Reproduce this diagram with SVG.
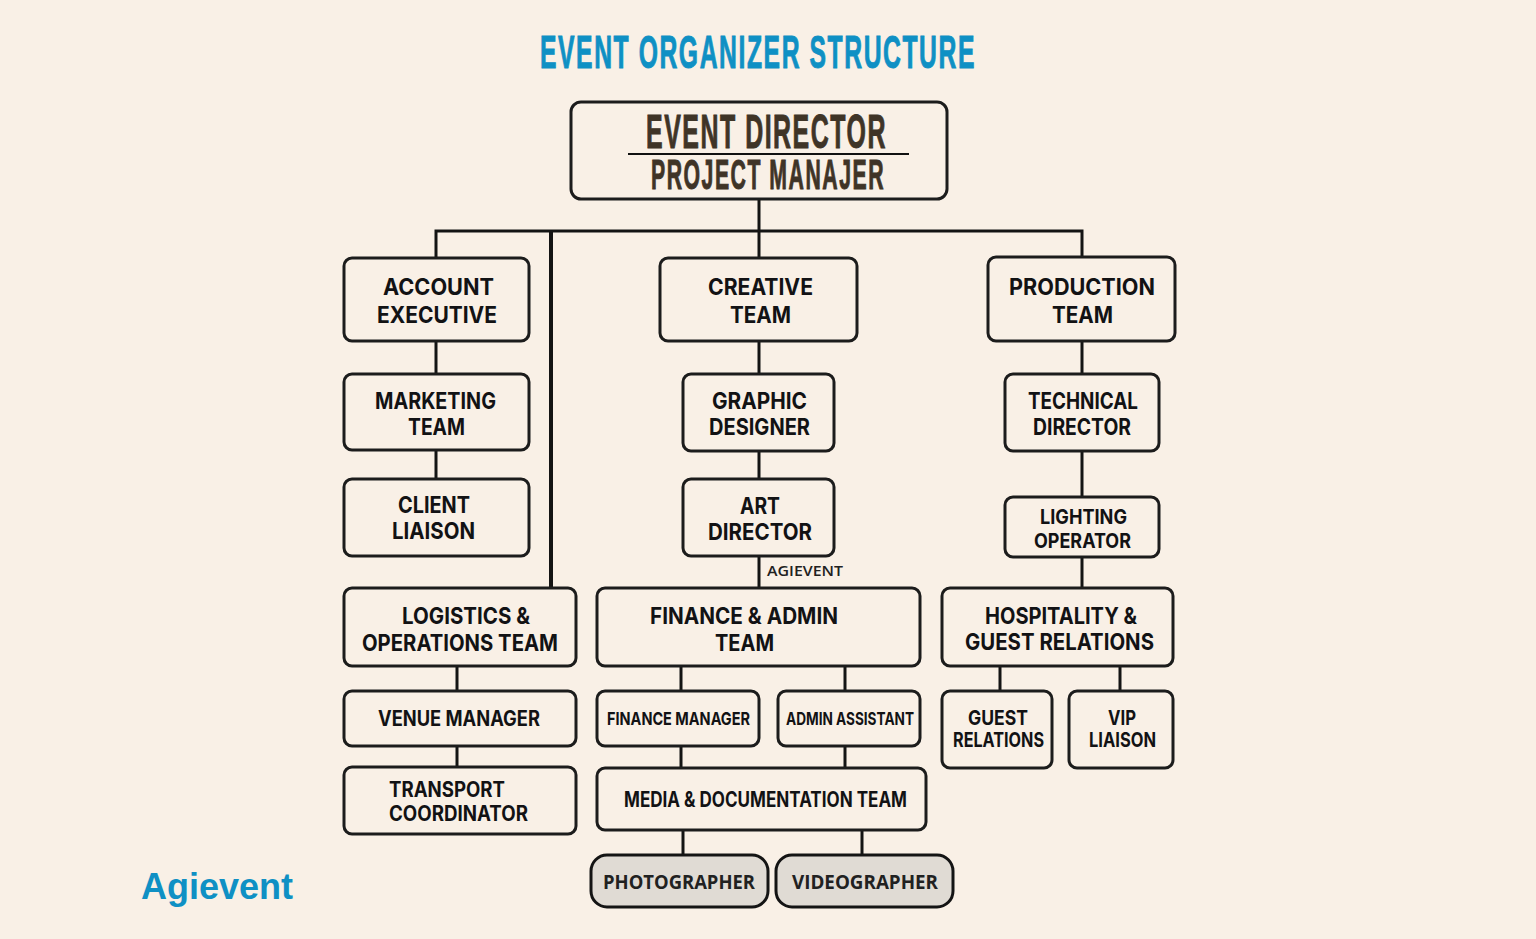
<svg xmlns="http://www.w3.org/2000/svg" width="1536" height="939" viewBox="0 0 1536 939">
<style>
.n{fill:#f9f0e6;stroke:#1c1c1c;stroke-width:3}
.g{fill:#e0dbd4;stroke:#141414;stroke-width:3}
.t{font-family:Inter,"Liberation Sans",sans-serif;font-weight:700;fill:#121214;font-size:23px}
.s{font-size:20px}
.m{font-size:18px}
.h{font-family:"Liberation Sans",Arial,sans-serif;font-weight:700;letter-spacing:3px;stroke-width:1}
.a{font-family:"Liberation Sans",Arial,sans-serif;font-weight:700}
.o{font-family:"Open Sans","Noto Sans",sans-serif;font-weight:700;font-size:20px;fill:#212121}
#connectors path{fill:none;stroke:#141414;stroke-width:3}
</style>
<rect width="1536" height="939" fill="#f9f0e6"/>
<text class="h" x="540" y="68" font-size="47" fill="#0f90c4" stroke="#0f90c4" textLength="436" lengthAdjust="spacingAndGlyphs">EVENT ORGANIZER STRUCTURE</text>
<g id="connectors">
<path d="M759 199V258M436 258V231H1082V257M436 341V374M436 450V479M759 341V374M759 451V479M759 556V588M1082 341V374M1082 451V497M1082 557V588M457 666V691M457 746V767M681 666V691M845 666V691M681 746V768M845 746V768M1000 666V691M1120 666V691M683 830V855M862 830V855"/>
<path d="M551 231V588" style="stroke-width:4"/>
</g>
<g id="event-director"><rect class="n" x="571" y="102" width="376" height="97" rx="10"/>
<text class="h" x="646" y="148" font-size="49" fill="#3f3427" stroke="#3f3427" textLength="241" lengthAdjust="spacingAndGlyphs">EVENT DIRECTOR</text>
<line x1="628" y1="154" x2="909" y2="154" stroke="#111" stroke-width="1.8"/>
<text class="h" x="651" y="189" font-size="42" fill="#3f3427" stroke="#3f3427" textLength="234" lengthAdjust="spacingAndGlyphs">PROJECT MANAJER</text></g>
<g id="account-executive"><rect class="n" x="344" y="258" width="185" height="83" rx="8"/>
<text class="t" x="383" y="295" textLength="111" lengthAdjust="spacingAndGlyphs">ACCOUNT</text><text class="t" x="377" y="323" textLength="120" lengthAdjust="spacingAndGlyphs">EXECUTIVE</text></g>
<g id="creative-team"><rect class="n" x="660" y="258" width="197" height="83" rx="8"/>
<text class="t" x="708" y="295" textLength="105" lengthAdjust="spacingAndGlyphs">CREATIVE</text><text class="t" x="730" y="323" textLength="61" lengthAdjust="spacingAndGlyphs">TEAM</text></g>
<g id="production-team"><rect class="n" x="988" y="257" width="187" height="84" rx="8"/>
<text class="t" x="1009" y="295" textLength="146" lengthAdjust="spacingAndGlyphs">PRODUCTION</text><text class="t" x="1052" y="323" textLength="61" lengthAdjust="spacingAndGlyphs">TEAM</text></g>
<g id="marketing-team"><rect class="n" x="344" y="374" width="185" height="76" rx="8"/>
<text class="t" x="375" y="409" textLength="121" lengthAdjust="spacingAndGlyphs">MARKETING</text><text class="t" x="408" y="435" textLength="57" lengthAdjust="spacingAndGlyphs">TEAM</text></g>
<g id="graphic-designer"><rect class="n" x="683" y="374" width="151" height="77" rx="8"/>
<text class="t" x="712" y="409" textLength="95" lengthAdjust="spacingAndGlyphs">GRAPHIC</text><text class="t" x="709" y="435" textLength="101" lengthAdjust="spacingAndGlyphs">DESIGNER</text></g>
<g id="technical-director"><rect class="n" x="1005" y="374" width="154" height="77" rx="8"/>
<text class="t" x="1028" y="409" textLength="110" lengthAdjust="spacingAndGlyphs">TECHNICAL</text><text class="t" x="1033" y="435" textLength="98" lengthAdjust="spacingAndGlyphs">DIRECTOR</text></g>
<g id="client-liaison"><rect class="n" x="344" y="479" width="185" height="77" rx="8"/>
<text class="t" x="398" y="513" textLength="72" lengthAdjust="spacingAndGlyphs">CLIENT</text><text class="t" x="392" y="539" textLength="83" lengthAdjust="spacingAndGlyphs">LIAISON</text></g>
<g id="art-director"><rect class="n" x="683" y="479" width="151" height="77" rx="8"/>
<text class="t" x="740" y="514" textLength="40" lengthAdjust="spacingAndGlyphs">ART</text><text class="t" x="708" y="540" textLength="104" lengthAdjust="spacingAndGlyphs">DIRECTOR</text></g>
<g id="lighting-operator"><rect class="n" x="1005" y="497" width="154" height="60" rx="8"/>
<text class="t s" x="1040" y="524" textLength="87" lengthAdjust="spacingAndGlyphs">LIGHTING</text><text class="t s" x="1034" y="548" textLength="97" lengthAdjust="spacingAndGlyphs">OPERATOR</text></g>
<text class="o" x="767" y="576" style="font-size:14px;font-weight:600" textLength="76" lengthAdjust="spacingAndGlyphs">AGIEVENT</text>
<g id="logistics-team"><rect class="n" x="344" y="588" width="232" height="78" rx="8"/>
<text class="t" x="402" y="624" textLength="128" lengthAdjust="spacingAndGlyphs">LOGISTICS &amp;</text><text class="t" x="362" y="651" textLength="196" lengthAdjust="spacingAndGlyphs">OPERATIONS TEAM</text></g>
<g id="finance-admin-team"><rect class="n" x="597" y="588" width="323" height="78" rx="8"/>
<text class="t" x="650" y="624" textLength="188" lengthAdjust="spacingAndGlyphs">FINANCE &amp; ADMIN</text><text class="t" x="715" y="651" textLength="59" lengthAdjust="spacingAndGlyphs">TEAM</text></g>
<g id="hospitality"><rect class="n" x="942" y="588" width="231" height="78" rx="8"/>
<text class="t" x="985" y="624" textLength="152" lengthAdjust="spacingAndGlyphs">HOSPITALITY &amp;</text><text class="t" x="965" y="650" textLength="189" lengthAdjust="spacingAndGlyphs">GUEST RELATIONS</text></g>
<g id="venue-manager"><rect class="n" x="344" y="691" width="232" height="55" rx="8"/>
<text class="t" x="378" y="726" style="font-size:21px" textLength="162" lengthAdjust="spacingAndGlyphs">VENUE MANAGER</text></g>
<g id="finance-manager"><rect class="n" x="597" y="691" width="162" height="55" rx="8"/>
<text class="t m" x="607" y="725" textLength="143" lengthAdjust="spacingAndGlyphs">FINANCE MANAGER</text></g>
<g id="admin-assistant"><rect class="n" x="778" y="691" width="142" height="55" rx="8"/>
<text class="t m" x="786" y="725" textLength="128" lengthAdjust="spacingAndGlyphs">ADMIN ASSISTANT</text></g>
<g id="guest-relations"><rect class="n" x="942" y="691" width="110" height="77" rx="8"/>
<text class="t s" x="968" y="725" textLength="60" lengthAdjust="spacingAndGlyphs">GUEST</text><text class="t s" x="953" y="747" textLength="91" lengthAdjust="spacingAndGlyphs">RELATIONS</text></g>
<g id="vip-liaison"><rect class="n" x="1069" y="691" width="104" height="77" rx="8"/>
<text class="t s" x="1108" y="725" textLength="28" lengthAdjust="spacingAndGlyphs">VIP</text><text class="t s" x="1089" y="747" textLength="67" lengthAdjust="spacingAndGlyphs">LIAISON</text></g>
<g id="transport-coordinator"><rect class="n" x="344" y="767" width="232" height="67" rx="8"/>
<text class="t" x="389" y="797" style="font-size:21px" textLength="116" lengthAdjust="spacingAndGlyphs">TRANSPORT</text><text class="t" x="389" y="821" style="font-size:21px" textLength="139" lengthAdjust="spacingAndGlyphs">COORDINATOR</text></g>
<g id="media-team"><rect class="n" x="597" y="768" width="329" height="62" rx="8"/>
<text class="t" x="624" y="807" style="font-size:21px" textLength="283" lengthAdjust="spacingAndGlyphs">MEDIA &amp; DOCUMENTATION TEAM</text></g>
<g id="photographer"><rect class="g" x="591" y="855" width="177" height="52" rx="16"/>
<text class="o" x="603" y="889" textLength="152" lengthAdjust="spacingAndGlyphs">PHOTOGRAPHER</text></g>
<g id="videographer"><rect class="g" x="776" y="855" width="177" height="52" rx="16"/>
<text class="o" x="792" y="889" textLength="146" lengthAdjust="spacingAndGlyphs">VIDEOGRAPHER</text></g>
<text class="a" x="141" y="899" font-size="37" fill="#0f90c4" textLength="152" lengthAdjust="spacingAndGlyphs">Agievent</text>
</svg>
